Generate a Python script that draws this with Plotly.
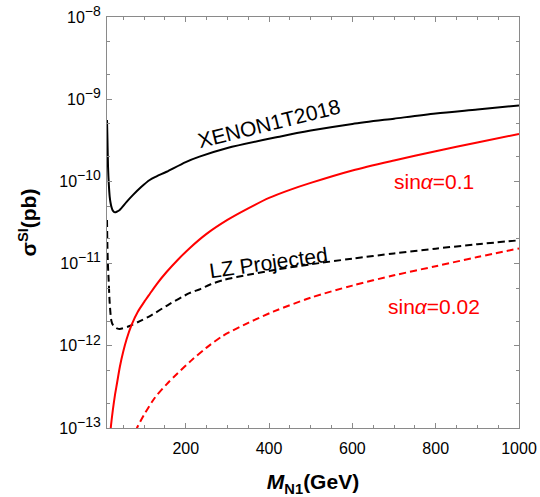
import plotly.graph_objects as go

# Spin-independent cross section vs. N1 mass
xenon_mass = [11, 12, 13.5, 15.5, 17.5, 19.5, 21.6, 25, 30, 35, 41.5, 57.6, 73, 93.6,
              113.5, 130, 154, 200, 233, 300, 425, 500, 600, 700, 800, 900, 1000]
xenon_sigma = [5.6e-10, 3.4e-10, 1.5e-10, 9.0e-11, 6.5e-11, 5.5e-11, 4.9e-11, 4.4e-11,
               4.2e-11, 4.3e-11, 4.5e-11, 5.6e-11, 6.8e-11, 8.6e-11, 1.04e-10, 1.15e-10,
               1.31e-10, 1.72e-10, 2.0e-10, 2.55e-10, 3.5e-10, 4.15e-10, 5.0e-10, 5.8e-10,
               6.7e-10, 7.5e-10, 8.4e-10]

lz_mass = [11, 12, 13.5, 15, 17.5, 21.6, 25, 29.5, 35, 41.5, 65, 90, 114, 160, 210, 235,
           260, 290, 350, 420, 500, 600, 700, 800, 900, 1000]
lz_sigma = [3.4e-11, 1.6e-11, 9.0e-12, 6.3e-12, 3.3e-12, 2.0e-12, 1.8e-12, 1.7e-12,
            1.63e-12, 1.6e-12, 1.74e-12, 2.0e-12, 2.3e-12, 3.2e-12, 4.4e-12, 4.9e-12,
            5.6e-12, 6.3e-12, 7.3e-12, 8.5e-12, 9.8e-12, 1.15e-11, 1.33e-11, 1.52e-11,
            1.72e-11, 1.92e-11]

sin01_mass = [19, 20, 25, 30, 35, 42, 50, 58, 70, 85, 100, 114, 130, 154, 180, 210, 250,
              300, 350, 400, 450, 500, 600, 700, 800, 900, 1000]
sin01_sigma = [0.85e-13, 1.0e-13, 1.65e-13, 2.5e-13, 3.5e-13, 5.6e-13, 8.5e-13, 1.2e-12,
               1.8e-12, 2.6e-12, 3.4e-12, 4.3e-12, 5.6e-12, 7.9e-12, 1.1e-11, 1.55e-11,
               2.3e-11, 3.4e-11, 4.7e-11, 6.3e-11, 7.9e-11, 9.6e-11, 1.36e-10, 1.8e-10,
               2.33e-10, 2.98e-10, 3.78e-10]

sin002_mass = [80, 83, 100, 125, 154, 180, 213, 250, 290, 350, 410, 500, 600, 700, 800,
               900, 1000]
sin002_sigma = [0.9e-13, 1.0e-13, 1.45e-13, 2.3e-13, 3.4e-13, 4.6e-13, 6.6e-13, 9.5e-13,
                1.33e-12, 1.9e-12, 2.6e-12, 3.85e-12, 5.4e-12, 7.2e-12, 9.3e-12, 1.2e-11,
                1.53e-11]

x_ticks = [200, 400, 600, 800, 1000]
y_ticks = [1e-13, 1e-12, 1e-11, 1e-10, 1e-9, 1e-8]
y_exponents = ["−13", "−12", "−11", "−10", "−9", "−8"]

FONT = "Liberation Sans, Arial, sans-serif"
DASH = "7px,4px"

fig = go.Figure()


def add_curve(x, y, color, dash):
    fig.add_trace(go.Scatter(
        x=x, y=y, mode="lines",
        line=dict(color=color, width=2, dash=dash, shape="spline", smoothing=0.8),
        showlegend=False, hoverinfo="skip",
    ))


add_curve(xenon_mass, xenon_sigma, "black", "solid")
add_curve(lz_mass, lz_sigma, "black", DASH)
add_curve(sin01_mass, sin01_sigma, "red", "solid")
add_curve(sin002_mass, sin002_sigma, "red", DASH)

annotations = [
    dict(text="XENON1T2018", x=399, y=-9.29, textangle=-14, color="black"),
    dict(text="LZ Projected", x=399, y=-10.99, textangle=-8, color="black"),
    dict(text="sin<i>α</i>=0.1", x=797, y=-10.007, textangle=0, color="red"),
    dict(text="sin<i>α</i>=0.02", x=797, y=-11.516, textangle=0, color="red"),
]
for a in annotations:
    fig.add_annotation(
        x=a["x"], y=a["y"], xref="x", yref="y", text=a["text"], showarrow=False,
        textangle=a["textangle"], font=dict(family=FONT, size=21, color=a["color"]),
    )

axis_grey = "#8a8a8a"
y_labels = [f"10<sup><span style='font-size:14px'>{e}</span></sup>" for e in y_exponents]

fig.update_xaxes(
    range=[11, 1000], tickvals=x_ticks, ticks="inside", ticklen=5, tickwidth=1,
    tickcolor=axis_grey, showline=True, linecolor=axis_grey, linewidth=1,
    mirror="ticks", showgrid=False, zeroline=False,
    minor=dict(dtick=50, tick0=0, ticks="inside", ticklen=3, tickcolor=axis_grey,
               showgrid=False),
    tickfont=dict(family=FONT, size=16, color="black"),
    ticklabelstandoff=6,
    title=dict(text="<b><i>M</i><sub>N1</sub>(GeV)</b>", standoff=18,
               font=dict(family=FONT, size=21, color="black")),
    automargin=False,
)
fig.update_yaxes(
    type="log", range=[-13, -8], tickvals=y_ticks, ticktext=y_labels,
    ticks="inside", ticklen=5, tickwidth=1, tickcolor=axis_grey,
    showline=True, linecolor=axis_grey, linewidth=1, mirror="ticks",
    showgrid=False, zeroline=False,
    minor=dict(ticks="inside", ticklen=3, tickcolor=axis_grey, showgrid=False),
    tickfont=dict(family=FONT, size=16, color="black"),
    ticklabelstandoff=2,
    title=dict(text="<b>σ<sup>SI</sup>(pb)</b>", standoff=16,
               font=dict(family=FONT, size=21, color="black")),
    automargin=False,
)

fig.update_layout(
    width=540, height=497,
    margin=dict(l=107, r=21, t=17, b=69),
    paper_bgcolor="white", plot_bgcolor="white",
    font=dict(family=FONT),
)

fig.write_html("out.html")
